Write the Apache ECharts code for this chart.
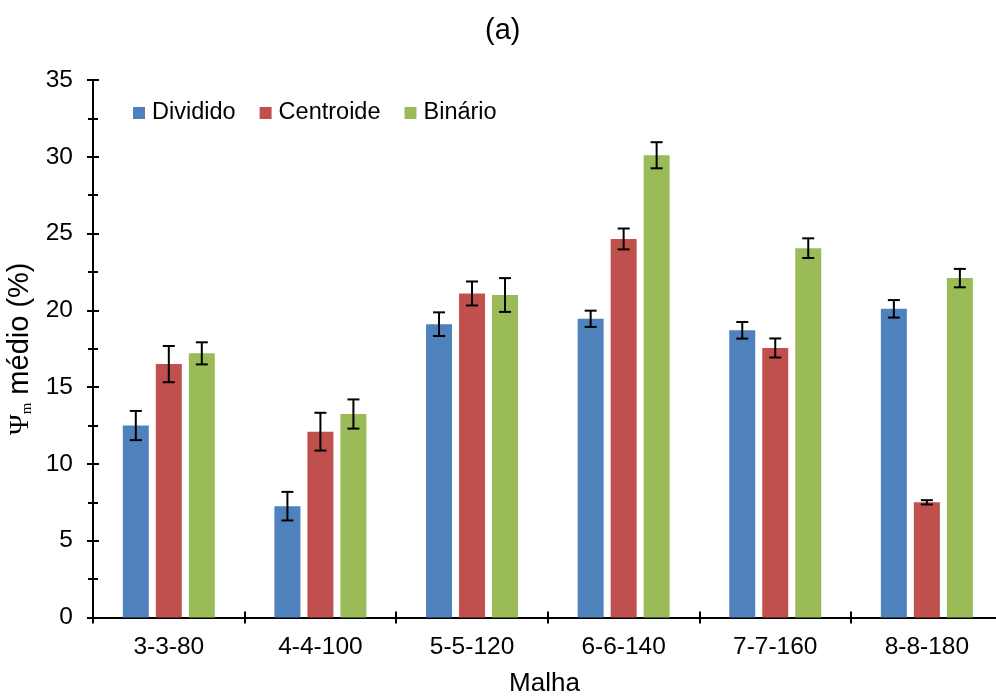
<!DOCTYPE html>
<html>
<head>
<meta charset="utf-8">
<script src="https://cdn.jsdelivr.net/npm/echarts@6/dist/echarts.min.js"></script>
<style>
  html, body { margin: 0; padding: 0; background: #fff; }
  #chart { width: 996px; height: 696px; }
</style>
</head>
<body>
<div id="chart"></div>
<script>
// Mesh configurations on the x axis
const categories = ['3-3-80', '4-4-100', '5-5-120', '6-6-140', '7-7-160', '8-8-180'];

// Mean Ψm (%) per method
const dividido  = [12.5, 7.25, 19.1, 19.45, 18.7, 20.1];
const centroide = [16.5, 12.1, 21.1, 24.65, 17.55, 7.5];
const binario   = [17.2, 13.25, 21.0, 30.1, 24.05, 22.1];

// Half-length of each error bar (%)
const divididoErr  = [0.95, 0.93, 0.77, 0.53, 0.54, 0.57];
const centroideErr = [1.18, 1.23, 0.78, 0.68, 0.62, 0.14];
const binarioErr   = [0.72, 0.95, 1.1, 0.85, 0.64, 0.6];

const yTicks = { min: 0, max: 35, interval: 5 };

const FONT = '"Liberation Sans", Arial, sans-serif';
const SERIF = '"Liberation Serif", "Times New Roman", serif';
const BAR_W = 26;
const BAR_GAP = 7;

// Category slots live on a numeric axis: slot i spans [i - 0.5, i + 0.5].
// The plot runs slightly past the right edge of the canvas, so the axis stops
// a little short of the last slot boundary.
const X_MIN = -0.5;
const X_MAX = 5.456;
const slotCenters = categories.map((_, i) => i);
const slotBounds = categories.map((_, i) => i - 0.5).concat([categories.length - 0.5]);

const toPairs = arr => arr.map((v, i) => [i, v]);

function errorSeries(values, errs, offset) {
  return {
    type: 'custom',
    silent: true,
    z: 10,
    clip: false,
    data: values.map((v, i) => [i, v, errs[i]]),
    renderItem: function (params, api) {
      const i = api.value(0), v = api.value(1), e = api.value(2);
      const hi = api.coord([i, v + e]);
      const lo = api.coord([i, v - e]);
      const x = hi[0] + offset;
      const cap = 6;
      const style = { stroke: '#000', lineWidth: 2 };
      return {
        type: 'group',
        children: [
          { type: 'line', shape: { x1: x, y1: hi[1], x2: x, y2: lo[1] }, style },
          { type: 'line', shape: { x1: x - cap, y1: hi[1], x2: x + cap, y2: hi[1] }, style },
          { type: 'line', shape: { x1: x - cap, y1: lo[1], x2: x + cap, y2: lo[1] }, style }
        ]
      };
    }
  };
}

const chart = echarts.init(document.getElementById('chart'), null, { renderer: 'canvas' });
const step = BAR_W + BAR_GAP;
const barGap = (BAR_GAP / BAR_W * 100) + '%';

const tickLine = { color: '#000', width: 2 };

chart.setOption({
  animation: false,
  backgroundColor: '#fff',
  textStyle: { fontFamily: FONT },
  title: {
    text: '(a)',
    left: 480,
    top: 11,
    textStyle: { fontFamily: FONT, fontSize: 29, fontWeight: 'normal', color: '#000' }
  },
  legend: {
    left: 128,
    top: 96,
    itemWidth: 12,
    itemHeight: 12,
    itemGap: 24,
    icon: 'rect',
    textStyle: { fontFamily: FONT, fontSize: 23.5, color: '#000', padding: [0, 0, 0, 2] },
    data: ['Dividido', 'Centroide', 'Binário']
  },
  grid: { left: 93, top: 80, right: 0, height: 537.5, containLabel: false, outerBoundsMode: 'none' },
  xAxis: [
    {
      type: 'value',
      min: X_MIN,
      max: X_MAX,
      name: 'Malha',
      nameLocation: 'middle',
      nameGap: 53,
      nameTextStyle: { fontFamily: FONT, fontSize: 26, color: '#000', align: 'center' },
      splitLine: { show: false },
      axisLine: { onZero: false, lineStyle: tickLine },
      axisTick: { show: true, length: 6, customValues: slotBounds, lineStyle: tickLine },
      axisLabel: {
        customValues: slotCenters,
        fontFamily: FONT, fontSize: 24.5, color: '#000', margin: 17,
        formatter: v => categories[Math.round(v)] || ''
      }
    },
    {
      type: 'value',
      min: X_MIN,
      max: X_MAX,
      position: 'bottom',
      splitLine: { show: false },
      axisLine: { show: false, onZero: false },
      axisTick: { show: true, inside: true, length: 6, customValues: slotBounds, lineStyle: tickLine },
      axisLabel: { show: false }
    }
  ],
  yAxis: [
    {
      type: 'value',
      min: yTicks.min,
      max: yTicks.max,
      interval: yTicks.interval,
      name: '{psi|Ψ}{sub|m}{txt| médio (%)}',
      nameLocation: 'middle',
      nameGap: 51,
      nameRotate: 90,
      nameTextStyle: {
        color: '#000',
        rich: {
          psi: { fontFamily: SERIF, fontSize: 28, color: '#000' },
          sub: { fontFamily: SERIF, fontSize: 15, color: '#000', padding: [14, 0, 0, 0] },
          txt: { fontFamily: FONT, fontSize: 29, color: '#000' }
        }
      },
      axisLine: { show: true, onZero: false, lineStyle: tickLine },
      axisTick: { show: true, length: 6, lineStyle: tickLine },
      minorTick: { show: true, splitNumber: 2, length: 5, lineStyle: tickLine },
      splitLine: { show: false },
      axisLabel: { fontFamily: FONT, fontSize: 24.5, color: '#000', margin: 20 }
    },
    {
      type: 'value',
      min: yTicks.min,
      max: yTicks.max,
      interval: yTicks.interval,
      position: 'left',
      axisLine: { show: false, onZero: false },
      axisTick: { show: true, inside: true, length: 6, lineStyle: tickLine },
      minorTick: { show: true, splitNumber: 2, length: 5, lineStyle: tickLine },
      splitLine: { show: false },
      axisLabel: { show: false }
    }
  ],
  series: [
    { name: 'Dividido', type: 'bar', data: toPairs(dividido), barWidth: BAR_W, barGap: barGap, itemStyle: { color: '#4F81BD' } },
    { name: 'Centroide', type: 'bar', data: toPairs(centroide), barWidth: BAR_W, barGap: barGap, itemStyle: { color: '#C0504D' } },
    { name: 'Binário', type: 'bar', data: toPairs(binario), barWidth: BAR_W, barGap: barGap, itemStyle: { color: '#9BBB59' } },
    errorSeries(dividido, divididoErr, -step),
    errorSeries(centroide, centroideErr, 0),
    errorSeries(binario, binarioErr, step)
  ]
});
</script>
</body>
</html>
